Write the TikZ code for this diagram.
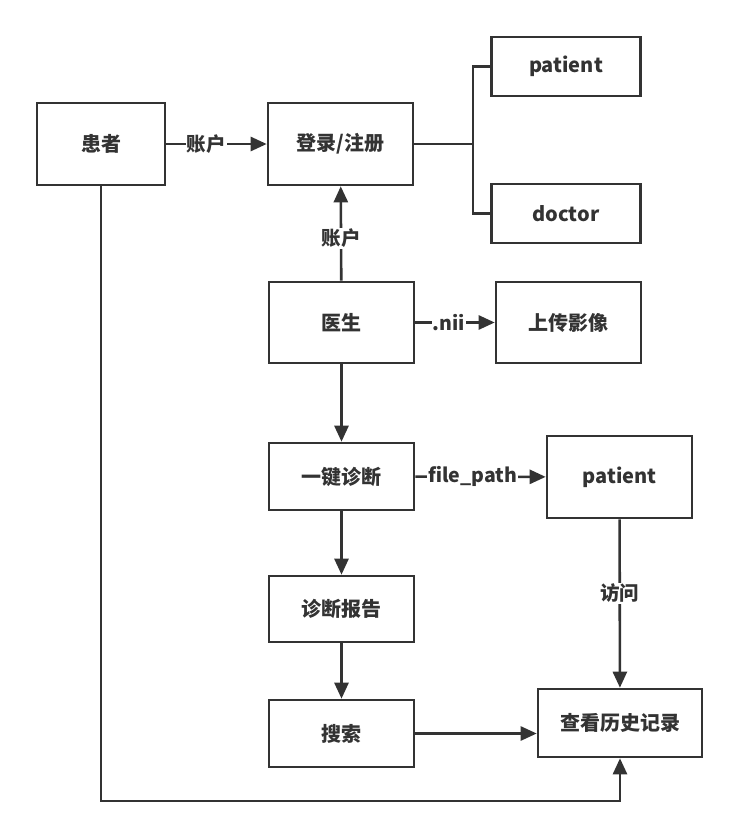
\documentclass[tikz,border=0pt]{standalone}
\usepackage{fontspec}
\setmainfont{Noto Sans CJK SC}
\usetikzlibrary{arrows.meta}
\definecolor{ink}{HTML}{333333}
\tikzset{
  box/.style={draw=ink, line width=2.6pt, fill=white, text=ink, font=\fontsize{20}{20}\selectfont\bfseries, inner sep=0pt},
  flow/.style={draw=ink, line width=2.6pt, -{Triangle[length=16pt,width=14pt]}},
  lbl/.style={fill=white, text=ink, font=\fontsize{19.5}{19.5}\selectfont\bfseries, inner sep=1pt}
}
\begin{document}
\begin{tikzpicture}[x=1pt,y=-1pt]
      \useasboundingbox (0,0) rectangle (739,838);
      \draw
        (101,144) node[box, minimum width=128pt, minimum height=82pt] (huanzhe){患者}
        (340.5,144) node[box, minimum width=145pt, minimum height=82pt] (denglu){登录/注册}
        (566,66.5) node[box, minimum width=149pt, minimum height=59pt] (patientA){patient}
        (566,213.5) node[box, minimum width=149pt, minimum height=59pt] (doctor){doctor}
        (341.5,322.5) node[box, minimum width=145pt, minimum height=81pt] (yisheng){医生}
        (568.5,322.5) node[box, minimum width=145pt, minimum height=81pt] (shangchuan){上传影像}
        (341.5,476.5) node[box, minimum width=145pt, minimum height=67pt] (zhenduan){一键诊断}
        (619.5,477) node[box, minimum width=145pt, minimum height=82pt] (patientB){patient}
        (341.5,609) node[box, minimum width=145pt, minimum height=66pt] (baogao){诊断报告}
        (341.5,733.5) node[box, minimum width=145pt, minimum height=67pt] (sousuo){搜索}
        (620,723) node[box, minimum width=164pt, minimum height=68pt] (lishi){查看历史记录};
      \coordinate (split) at (473,144);
      \coordinate (bottom) at (101,801);
      \begin{scope}[flow]
        \draw (huanzhe) to node[lbl, pos=0.4] {账户} (denglu);
        \draw (yisheng) to node[lbl, pos=0.45] {账户} (denglu);
        \draw (yisheng) to node[lbl, pos=0.42] {.nii} (shangchuan);
        \draw (yisheng) to (zhenduan);
        \draw (zhenduan) to node[lbl, pos=0.44] {file\_path} (patientB);
        \draw (zhenduan) to (baogao);
        \draw (baogao) to (sousuo);
        \draw (sousuo.east) to (sousuo.east -| lishi.west);
        \draw (patientB) to node[lbl, pos=0.44] {访问} (lishi);
        \draw (huanzhe.south) -- (bottom) -| (lishi.south);
      \end{scope}
      \begin{scope}[-, draw=ink, line width=2.6pt]
        \draw (denglu.east) to (split);
        \draw (patientA.west) -| (split) |- (doctor.west);
      \end{scope}
    \end{tikzpicture}
\end{document}
